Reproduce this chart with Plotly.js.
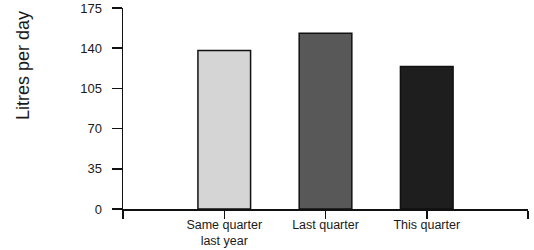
<!DOCTYPE html>
<html>
<head>
<meta charset="utf-8">
<script src="https://cdn.plot.ly/plotly-3.0.1.min.js"></script>
<style>html,body{margin:0;padding:0;background:#fff;}#chart{width:534px;height:250px;}</style>
</head>
<body>
<div id="chart"></div>
<script>
var categories = ["Same quarter<br>last year", "Last quarter", "This quarter"];
var values = [138, 153, 124];
var barColors = ["#d5d5d5", "#585858", "#1e1e1e"];
var yTickVals = [0, 35, 70, 105, 140, 175];
var yTitle = "Litres per day";

var xPos = categories.map(function (c, i) { return i; });

var trace = {
  type: "bar",
  x: xPos,
  y: values,
  width: 0.52,
  marker: { color: barColors, line: { color: "#111", width: 1.5 } },
  hoverinfo: "none"
};

var layout = {
  width: 534,
  height: 250,
  margin: { l: 123, r: 6, t: 8, b: 41 },
  paper_bgcolor: "#fff",
  plot_bgcolor: "#fff",
  showlegend: false,
  font: { family: "Liberation Sans, Arial, Helvetica, sans-serif", color: "#1a1a1a", size: 13 },
  xaxis: {
    range: [-1, 3],
    tickmode: "array",
    tickvals: [-1].concat(xPos).concat([3]),
    ticktext: [""].concat(categories).concat([""]),
    ticks: "outside",
    ticklen: 8,
    tickwidth: 1.5,
    tickcolor: "#111",
    showline: true,
    linecolor: "#111",
    linewidth: 1.5,
    showgrid: false,
    zeroline: false,
    ticklabelstandoff: -5,
    tickfont: { size: 12.5 },
    fixedrange: true
  },
  yaxis: {
    range: [0, 175],
    tickmode: "array",
    tickvals: yTickVals,
    ticks: "outside",
    ticklen: 10,
    tickwidth: 1.5,
    tickcolor: "#111",
    showline: true,
    linecolor: "#111",
    linewidth: 1.5,
    showgrid: false,
    zeroline: false,
    ticklabelstandoff: 7,
    tickfont: { size: 13 },
    fixedrange: true
  },
  annotations: [{
    text: yTitle,
    xref: "paper", yref: "paper",
    x: -0.245, y: 0.715,
    xanchor: "center", yanchor: "middle",
    textangle: -90,
    showarrow: false,
    font: { size: 18 }
  }]
};

Plotly.newPlot("chart", [trace], layout, { displayModeBar: false, staticPlot: true });
</script>
</body>
</html>
